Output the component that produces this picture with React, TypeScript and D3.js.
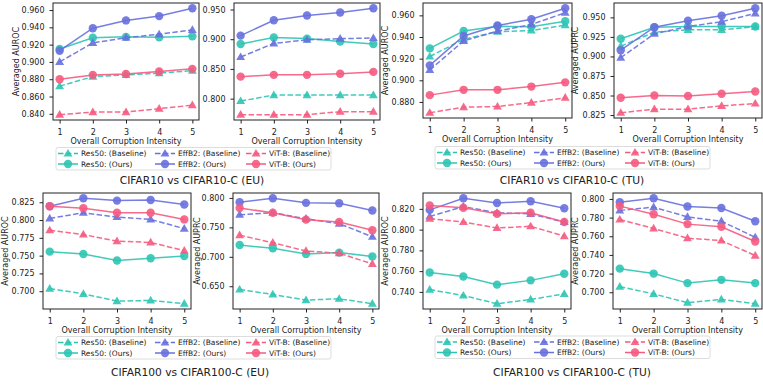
import React, { useEffect, useRef } from 'react';
import * as d3 from 'd3';

const intensities = [1, 2, 3, 4, 5];
const seriesNames = ['Res50: (Baseline)', 'Res50: (Ours)', 'EffB2: (Baseline)', 'EffB2: (Ours)', 'ViT-B: (Baseline)', 'ViT-B: (Ours)'];

// rows follow seriesNames: res50 base, res50 ours, effb2 base, effb2 ours, vit base, vit ours
const c10EuAuroc = [
  [0.872, 0.883, 0.885, 0.887, 0.890],
  [0.915, 0.928, 0.929, 0.9285, 0.9296],
  [0.900, 0.922, 0.928, 0.932, 0.937],
  [0.913, 0.939, 0.948, 0.953, 0.962],
  [0.839, 0.842, 0.842, 0.846, 0.850],
  [0.880, 0.885, 0.886, 0.889, 0.892],
];
const c10EuAuprc = [
  [0.796, 0.806, 0.806, 0.806, 0.806],
  [0.892, 0.903, 0.901, 0.896, 0.892],
  [0.870, 0.893, 0.899, 0.901, 0.902],
  [0.906, 0.932, 0.940, 0.945, 0.952],
  [0.773, 0.773, 0.773, 0.778, 0.778],
  [0.837, 0.840, 0.840, 0.842, 0.845],
];
const c10TuAuroc = [
  [0.922, 0.938, 0.945, 0.946, 0.951],
  [0.9295, 0.9455, 0.950, 0.9494, 0.9546],
  [0.9096, 0.9364, 0.9455, 0.9516, 0.9624],
  [0.9138, 0.941, 0.9506, 0.9564, 0.9666],
  [0.870, 0.8752, 0.8758, 0.8794, 0.8839],
  [0.8863, 0.8912, 0.8912, 0.8942, 0.8981],
];
const c10TuAuprc = [
  [0.9131, 0.9311, 0.934, 0.934, 0.938],
  [0.9227, 0.9374, 0.9383, 0.9383, 0.9383],
  [0.8984, 0.929, 0.9383, 0.9445, 0.955],
  [0.908, 0.9374, 0.9458, 0.952, 0.9617],
  [0.8279, 0.8325, 0.8325, 0.8367, 0.8397],
  [0.8472, 0.850, 0.8493, 0.8523, 0.8552],
];
const c100EuAuroc = [
  [0.7037, 0.6963, 0.6861, 0.687, 0.6824],
  [0.7556, 0.7523, 0.7431, 0.7463, 0.7495],
  [0.8023, 0.8102, 0.8042, 0.8009, 0.788],
  [0.8194, 0.8306, 0.8273, 0.8282, 0.8218],
  [0.7856, 0.7796, 0.7704, 0.7685, 0.757],
  [0.8194, 0.8167, 0.8102, 0.8102, 0.8009],
];
const c100EuAuprc = [
  [0.6444, 0.636, 0.6265, 0.6287, 0.6203],
  [0.720, 0.7144, 0.7049, 0.7071, 0.7004],
  [0.7715, 0.7748, 0.7647, 0.7563, 0.734],
  [0.7927, 0.7994, 0.7916, 0.791, 0.7787],
  [0.7368, 0.7239, 0.7099, 0.706, 0.688],
  [0.7827, 0.7748, 0.7631, 0.7591, 0.7451],
];
const c100TuAuroc = [
  [0.7422, 0.7365, 0.7286, 0.7327, 0.7381],
  [0.7587, 0.7549, 0.747, 0.7511, 0.7575],
  [0.8127, 0.8222, 0.8162, 0.8152, 0.8073],
  [0.819, 0.8302, 0.8257, 0.8273, 0.8206],
  [0.8105, 0.8073, 0.8016, 0.8032, 0.7937],
  [0.8232, 0.821, 0.8152, 0.8162, 0.8073],
];
const c100TuAuprc = [
  [0.706, 0.6982, 0.6888, 0.6923, 0.6877],
  [0.7253, 0.720, 0.7098, 0.7133, 0.7098],
  [0.7877, 0.7912, 0.7807, 0.7761, 0.7589],
  [0.7965, 0.8007, 0.7919, 0.7902, 0.7761],
  [0.7779, 0.7684, 0.7579, 0.7554, 0.7393],
  [0.7923, 0.7835, 0.773, 0.7702, 0.7544],
];

// y tick labels per panel
const c10EuAurocTicks = [0.84, 0.86, 0.88, 0.90, 0.92, 0.94, 0.96];
const c10EuAuprcTicks = [0.80, 0.85, 0.90, 0.95];
const c10TuAurocTicks = [0.88, 0.90, 0.92, 0.94, 0.96];
const c10TuAuprcTicks = [0.825, 0.85, 0.875, 0.90, 0.925, 0.95];
const c100EuAurocTicks = [0.70, 0.725, 0.75, 0.775, 0.80, 0.825];
const c100EuAuprcTicks = [0.65, 0.70, 0.75, 0.80];
const c100TuAurocTicks = [0.74, 0.76, 0.78, 0.80, 0.82];
const c100TuAuprcTicks = [0.70, 0.72, 0.74, 0.76, 0.78, 0.80];

const titles = ['CIFAR10 vs CIFAR10-C (EU)', 'CIFAR10 vs CIFAR10-C (TU)', 'CIFAR100 vs CIFAR100-C (EU)', 'CIFAR100 vs CIFAR100-C (TU)'];

const modelColors = ['#2ec4b4', '#6870de', '#f55a80'];
const font = '"DejaVu Sans", sans-serif';

const panels = [
  { data: c10EuAuroc, ticks: c10EuAurocTicks, ylabel: 'Averaged AUROC', x0: 53, x1: 199, y0: 3, y1: 120, labX: 16 },
  { data: c10EuAuprc, ticks: c10EuAuprcTicks, ylabel: null, x0: 234, x1: 380, y0: 3, y1: 120, labX: 0 },
  { data: c10TuAuroc, ticks: c10TuAurocTicks, ylabel: 'Averaged AUROC', x0: 423, x1: 572, y0: 3, y1: 118, labX: 385 },
  { data: c10TuAuprc, ticks: c10TuAuprcTicks, ylabel: 'Averaged AUPRC', x0: 614, x1: 762, y0: 3, y1: 118, labX: 575 },
  { data: c100EuAuroc, ticks: c100EuAurocTicks, ylabel: 'Averaged AUROC', x0: 43, x1: 191, y0: 193, y1: 309, labX: 5 },
  { data: c100EuAuprc, ticks: c100EuAuprcTicks, ylabel: 'Averaged AUPRC', x0: 233, x1: 379, y0: 193, y1: 309, labX: 197 },
  { data: c100TuAuroc, ticks: c100TuAurocTicks, ylabel: 'Averaged AUROC', x0: 423, x1: 571, y0: 193, y1: 309, labX: 385 },
  { data: c100TuAuprc, ticks: c100TuAuprcTicks, ylabel: 'Averaged AUPRC', x0: 613, x1: 762, y0: 193, y1: 309, labX: 575 },
];

const legends = [
  { x: 56, y: 147.5, tx: 192, ty: 180 },
  { x: 435, y: 146.5, tx: 572, ty: 180.5 },
  { x: 56, y: 336.5, tx: 190, ty: 372 },
  { x: 435, y: 336, tx: 572, ty: 372 },
];

function drawMarker(g, i, cx, cy) {
  const color = modelColors[Math.floor(i / 2)];
  if (i % 2 === 0) {
    g.append('path')
      .attr('d', d3.symbol(d3.symbolTriangle, 34)())
      .attr('transform', `translate(${cx},${cy + 0.5})`)
      .attr('fill', color)
      .attr('fill-opacity', 0.9);
  } else {
    g.append('circle')
      .attr('cx', cx)
      .attr('cy', cy)
      .attr('r', 4.2)
      .attr('fill', color)
      .attr('fill-opacity', 0.9);
  }
}

function drawPanel(svg, p) {
  const x = d3.scaleLinear().domain([0.8, 5.2]).range([p.x0, p.x1]);
  const [lo, hi] = d3.extent(p.data.flat()) as [number, number];
  const pad = (hi - lo) * 0.05;
  const y = d3.scaleLinear().domain([lo - pad, hi + pad]).range([p.y1, p.y0]);
  const g = svg.append('g');

  g.append('rect')
    .attr('x', p.x0).attr('y', p.y0)
    .attr('width', p.x1 - p.x0).attr('height', p.y1 - p.y0)
    .attr('fill', 'white');

  const line = d3.line<number>().x((d, j) => x(intensities[j])).y((d) => y(d));
  p.data.forEach((vals, i) => {
    g.append('path')
      .datum(vals)
      .attr('d', line)
      .attr('fill', 'none')
      .attr('stroke', modelColors[Math.floor(i / 2)])
      .attr('stroke-width', 1.5)
      .attr('stroke-opacity', 0.9)
      .attr('stroke-dasharray', i % 2 === 0 ? '5.5,2.4' : null);
    vals.forEach((v, j) => drawMarker(g, i, x(intensities[j]), y(v)));
  });

  const xa = g.append('g')
    .attr('transform', `translate(0,${p.y1})`)
    .call(d3.axisBottom(x).tickValues(intensities).tickSize(3.5).tickPadding(5.5).tickFormat(d3.format('d')));
  const ya = g.append('g')
    .attr('transform', `translate(${p.x0},0)`)
    .call(d3.axisLeft(y).tickValues(p.ticks).tickSize(3.5).tickPadding(5).tickFormat(d3.format('.3f')));
  [xa, ya].forEach((a) => {
    a.select('.domain').remove();
    a.selectAll('line').attr('stroke', '#222');
    a.selectAll('text').attr('font-family', font).attr('font-size', 8).attr('fill', '#222');
    a.attr('font-family', null).attr('font-size', null);
  });

  g.append('rect')
    .attr('x', p.x0).attr('y', p.y0)
    .attr('width', p.x1 - p.x0).attr('height', p.y1 - p.y0)
    .attr('fill', 'none')
    .attr('stroke', '#222')
    .attr('stroke-width', 1);

  g.append('text')
    .attr('x', (p.x0 + p.x1) / 2)
    .attr('y', p.y1 + 21.5)
    .attr('dominant-baseline', 'central')
    .attr('text-anchor', 'middle')
    .attr('font-family', font)
    .attr('font-size', 8)
    .attr('fill', '#222')
    .text('Overall Corruption Intensity');

  if (p.ylabel) {
    const cy = (p.y0 + p.y1) / 2;
    g.append('text')
      .attr('transform', `translate(${p.labX},${cy}) rotate(-90)`)
      .attr('dominant-baseline', 'central')
      .attr('text-anchor', 'middle')
      .attr('font-family', font)
      .attr('font-size', 8)
      .attr('fill', '#222')
      .text(p.ylabel);
  }
}

function drawLegend(svg, l, title) {
  const g = svg.append('g');
  g.append('rect')
    .attr('x', l.x).attr('y', l.y)
    .attr('width', 275).attr('height', 22.5)
    .attr('rx', 2)
    .attr('fill', 'white')
    .attr('fill-opacity', 0.8)
    .attr('stroke', '#d4d4d4')
    .attr('stroke-width', 0.8);
  const colOffsets = [0, 97, 188];
  seriesNames.forEach((name, i) => {
    const cx = l.x + colOffsets[Math.floor(i / 2)];
    const cy = l.y + 6 + (i % 2) * 10.5;
    g.append('line')
      .attr('x1', cx + 2).attr('x2', cx + 22)
      .attr('y1', cy).attr('y2', cy)
      .attr('stroke', modelColors[Math.floor(i / 2)])
      .attr('stroke-width', 1.5)
      .attr('stroke-dasharray', i % 2 === 0 ? '5.5,2.4' : null);
    drawMarker(g, i, cx + 12, cy);
    g.append('text')
      .attr('x', cx + 25).attr('y', cy)
      .attr('dominant-baseline', 'central')
      .attr('font-family', font)
      .attr('font-size', 7.5)
      .attr('fill', '#222')
      .text(name);
  });
  svg.append('text')
    .attr('x', l.tx).attr('y', l.ty)
    .attr('dominant-baseline', 'central')
    .attr('text-anchor', 'middle')
    .attr('font-family', font)
    .attr('font-size', 10.7)
    .attr('fill', '#222')
    .text(title);
}

export default function App() {
  const ref = useRef<SVGSVGElement>(null);
  useEffect(() => {
    const svg = d3.select(ref.current);
    svg.selectAll('*').remove();
    panels.forEach((p) => drawPanel(svg, p));
    legends.forEach((l, i) => drawLegend(svg, l, titles[i]));
  }, []);
  return (
    <svg ref={ref} width={763} height={386}
      style={{ position: 'absolute', left: 0, top: 0, background: 'white' }} />
  );
}
